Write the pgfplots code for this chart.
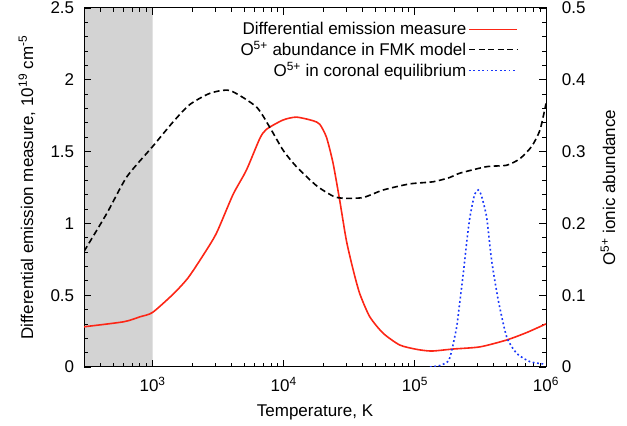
\documentclass[border=0pt]{standalone}
\usepackage{fontspec}
\setmainfont{Liberation Sans}
\usepackage{pgfplots}
\pgfplotsset{compat=1.18}
\definecolor{demred}{RGB}{252,38,22}
\definecolor{eqblue}{RGB}{25,55,250}
\definecolor{shade}{RGB}{211,211,211}
\newcommand{\sps}[1]{\textsuperscript{#1}}
\begin{document}
\fontsize{17}{20}\selectfont
\begin{tikzpicture}
\begin{axis}[
  width=462pt, height=359pt, scale only axis,
  xmode=log, xmin=300, xmax=1e6,
  tick align=inside, major tick length=7pt, minor tick length=4pt,
  font=\fontsize{17}{20}\selectfont,
  every tick/.style={black, line width=0.8pt},
  axis line style={line width=1pt},
  ymin=0, ymax=2.5, axis on top,
  xtick={1e3,1e4,1e5,1e6},
  xticklabels={10\sps{3},10\sps{4},10\sps{5},10\sps{6}},
  minor xtick={300,400,500,600,700,800,900,2000,3000,4000,5000,6000,7000,8000,9000,20000,30000,40000,50000,60000,70000,80000,90000,200000,300000,400000,500000,600000,700000,800000,900000},
  xtick pos=both, xticklabel pos=lower,
  xticklabel style={yshift=-4pt},
  ytick={0,0.5,1,1.5,2,2.5}, yticklabels={0,0.5,1,1.5,2,2.5},
  yticklabel style={xshift=-4pt},
  minor y tick num=4, ytick pos=left,
  xlabel={Temperature, K},
  xlabel style={at={(axis description cs:0.5,-0.126)}, anchor=center},
  ylabel={Differential emission measure, 10\sps{19} cm\sps{-5}},
  ylabel style={at={(axis description cs:-0.1234,0.5)}, anchor=center},
]
\addplot[fill=shade, draw=none] coordinates {(300,0) (1000,0) (1000,2.5) (300,2.5)} \closedcycle;
\end{axis}
\begin{axis}[
  width=462pt, height=359pt, scale only axis,
  xmode=log, xmin=300, xmax=1e6,
  tick align=inside, major tick length=7pt, minor tick length=4pt,
  font=\fontsize{17}{20}\selectfont,
  every tick/.style={black, line width=0.8pt},
  axis line style={line width=1pt},
  ymin=0, ymax=0.5,
  axis x line=none, axis y line*=right,
  ytick={0,0.1,0.2,0.3,0.4,0.5}, yticklabels={0,0.1,0.2,0.3,0.4,0.5},
  yticklabel style={xshift=10pt},
  minor y tick num=4,
  ylabel={O\sps{5+} ionic abundance},
  ylabel style={at={(axis description cs:1.134,0.5)}, anchor=center},
  legend style={draw=none, fill=none, at={(axis description cs:0.946,0.972)}, anchor=north east,
    row sep=0pt, font=\fontsize{17}{20}\selectfont},
  legend cell align=right, legend plot pos=right,
  legend image code/.code={\draw[#1] (6pt,0pt) -- (54pt,0pt);},
]
% differential emission measure (left axis, 10^19 cm^-5), drawn on the right scale (2.5 -> 0.5)
\addplot[demred, line width=1.6pt, smooth, tension=0.4] table[x=T, y expr=\thisrow{D}/5] {
T D
300 0.28
603 0.315
805 0.35
1000 0.38
1445 0.51
1862 0.62
2399 0.77
3062 0.93
4102 1.20
5188 1.37
6561 1.59
7379 1.655
9886 1.72
12500 1.74
16750 1.715
18840 1.69
21180 1.60
23770 1.42
26730 1.16
30060 0.88
33880 0.675
38020 0.51
45290 0.35
57280 0.235
76740 0.153
103000 0.123
134000 0.111
195000 0.125
313300 0.14
501200 0.188
712900 0.24
1000000 0.30
};
\addlegendentry{Differential emission measure}
\addplot[black, line width=1.6pt, dash pattern=on 6pt off 3.5pt, smooth, tension=0.4] coordinates {
(300,0.161) (448,0.214) (637,0.265) (1000,0.307) (1413,0.34) (1905,0.365) (2723,0.381)
(3890,0.385) (6166,0.3625) (7762,0.335) (9886,0.302) (12500,0.279) (17780,0.2525)
(23770,0.238) (28180,0.235) (40270,0.236) (57280,0.2465) (91200,0.255) (138000,0.258)
(185000,0.264) (220800,0.27) (352400,0.279) (501200,0.281) (631000,0.29) (776200,0.307)
(899500,0.33) (1000000,0.367)
};
\addlegendentry{O\sps{5+} abundance in FMK model}
\addplot[eqblue, line width=1.6pt, dash pattern=on 1.8pt off 2.6pt, smooth, tension=0.4] coordinates {
(130300,0) (154900,0.002) (179500,0.008) (190500,0.022) (208000,0.055) (220000,0.09)
(233900,0.13) (250000,0.178) (263000,0.209) (285000,0.24) (304000,0.2465) (320000,0.24)
(352400,0.209) (384600,0.149) (432500,0.093) (501200,0.042) (597000,0.019) (755000,0.0074)
(977000,0.004)
};
\addlegendentry{O\sps{5+} in coronal equilibrium}
\end{axis}
\pgfresetboundingbox
\path[use as bounding box] ([shift={(-84pt,-59pt)}]current axis.south west) rectangle ([shift={(81pt,8pt)}]current axis.north east);
\end{tikzpicture}
\end{document}
